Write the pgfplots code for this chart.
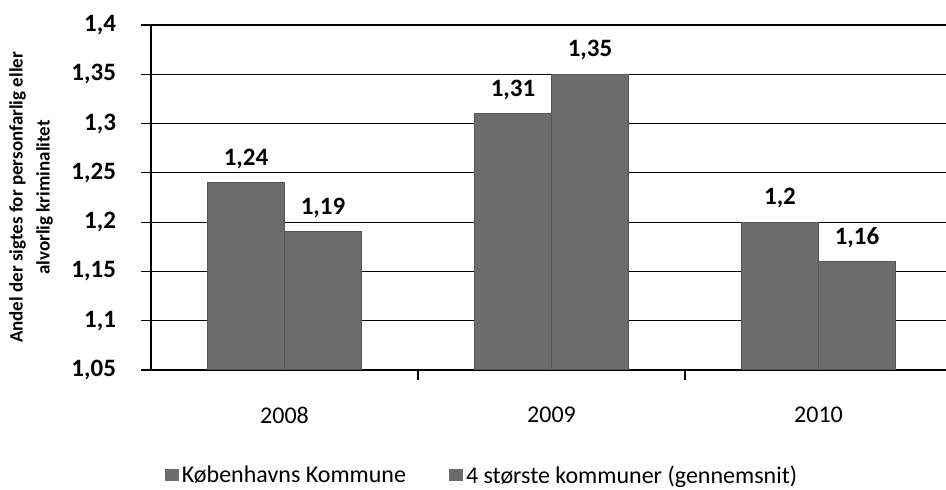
\documentclass[border=0pt]{standalone}
\usepackage{fontspec}
\setmainfont{Carlito}
\usepackage{pgfplots}
\pgfplotsset{compat=1.18}
\definecolor{bargray}{RGB}{108,108,108}
\definecolor{baredge}{RGB}{85,85,85}
\begin{document}
\begin{tikzpicture}
\begin{axis}[
  scale only axis,
  width=397.5pt, height=172.5pt,
  xmin=-0.5, xmax=2.4775,
  ymin=1.05, ymax=1.4,
  ybar=0pt, bar width=38.5pt,
  ytick={1.05,1.1,1.15,1.2,1.25,1.3,1.35,1.4},
  xtick={0,1,2}, xticklabels={2008,2009,2010},
  xtick style={draw=none},
  extra x ticks={0.5,1.5}, extra x tick labels={},
  extra x tick style={xtick style={draw=black, line width=0.8pt}},
  axis lines*=left,
  axis line style={black, line width=0.9pt},
  ymajorgrids, major grid style={black, line width=0.6pt},
  tick align=outside,
  major tick length=5pt,
  ytick style={black, line width=0.6pt},
  /pgf/number format/.cd, use comma, fixed, precision=2, assume math mode=true, 1000 sep={},
  /pgfplots/.cd,
  yticklabel style={font=\bfseries\fontsize{12.5}{14}\selectfont, xshift=-9pt},
  xticklabel style={font=\fontsize{12}{14}\selectfont, yshift=-10pt},
  ylabel={Andel der sigtes for personfarlig eller\\alvorlig kriminalitet},
  ylabel style={font=\bfseries\fontsize{9.5}{13.5}\selectfont, align=center, at={(axis description cs:-0.151,0.5)}, anchor=center},
  nodes near coords,
  nodes near coords style={font=\bfseries\fontsize{12.5}{14}\selectfont, anchor=south, yshift=3.5pt, text=black},
  legend columns=2,
  legend style={draw=none, fill=none, font=\fontsize{12}{14}\selectfont,
    at={(axis description cs:0.417,-0.307)}, anchor=center,
    /tikz/every even column/.append style={column sep=20pt},
    nodes={inner sep=1.5pt}},
  legend image code/.code={\fill[#1, draw=none] (0pt,-2.5pt) rectangle (7pt,3.5pt);},
]
\addplot[fill=bargray, draw=baredge, line width=0.5pt] coordinates {(0,1.24) (1,1.31) (2,1.2)};
\addplot[fill=bargray, draw=baredge, line width=0.5pt] coordinates {(0,1.19) (1,1.35) (2,1.16)};
\legend{Københavns Kommune, 4 største kommuner (gennemsnit)}
\end{axis}
\pgfresetboundingbox
\path[use as bounding box] ([shift={(-75.5pt,-60pt)}]current axis.south west) rectangle ([shift={(397.5pt,185pt)}]current axis.south west);
\end{tikzpicture}
\end{document}
